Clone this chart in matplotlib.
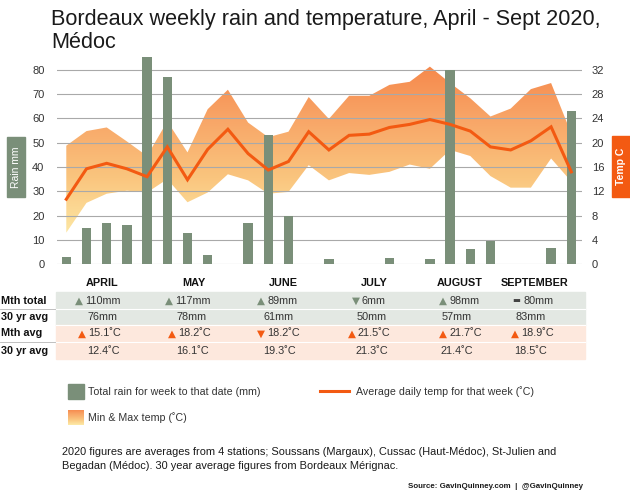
import numpy as np
import matplotlib
matplotlib.use('Agg')
import matplotlib.pyplot as plt
from matplotlib.colors import LinearSegmentedColormap
from matplotlib.patches import Rectangle
from matplotlib.lines import Line2D

plt.rcParams['font.family'] = ['Liberation Sans', 'DejaVu Sans']

# weekly data, April - Sept 2020
weeks = np.arange(26)
rain_mm = [3, 15, 17, 16, 85, 77, 13, 4, 0, 17, 53, 20, 0,
           2.2, 0, 0, 2.7, 0, 2.2, 80, 6.4, 9.7, 0, 0, 6.8, 63]
temp_avg = [10.7, 15.7, 16.6, 15.7, 14.4, 19.3, 13.9, 18.9, 22.2, 18.2, 15.5, 16.9, 21.8,
            18.8, 21.2, 21.4, 22.5, 23.0, 23.8, 23.0, 21.9, 19.3, 18.8, 20.3, 22.6, 15.2]
temp_max = [19.5, 21.9, 22.5, 20.2, 17.8, 23.5, 18.4, 25.5, 28.7, 23.3, 20.9, 21.8, 27.5,
            23.9, 27.7, 27.7, 29.5, 30.0, 32.5, 29.8, 27.3, 24.3, 25.6, 28.8, 29.8, 21.5]
temp_min = [5.2, 10.1, 11.6, 12.1, 11.8, 14.0, 10.2, 11.8, 14.8, 13.8, 11.6, 11.9, 16.3,
            13.8, 15.0, 14.7, 15.2, 16.4, 15.7, 18.8, 17.8, 14.5, 12.6, 12.6, 17.4, 13.6]

# monthly table
months = ['APRIL', 'MAY', 'JUNE', 'JULY', 'AUGUST', 'SEPTEMBER']
rain_total = [110, 117, 89, 6, 98, 80]
rain_30yr = [76, 78, 61, 50, 57, 83]
rain_trend = ['up', 'up', 'up', 'down', 'up', 'same']
temp_month = [15.1, 18.2, 18.2, 21.5, 21.7, 18.9]
temp_30yr = [12.4, 16.1, 19.3, 21.3, 21.4, 18.5]
temp_trend = ['up', 'up', 'down', 'up', 'up', 'up']

GREEN = '#7A8F79'
ORANGE = '#F35A12'
TXT = '#333333'
W, H = 630, 501


def fx(px):
    return px / W


def fy(py):
    return 1 - py / H


fig = plt.figure(figsize=(6.3, 5.01), dpi=100)
fig.patch.set_facecolor('white')

# three stacked axes: gradient band (back), bars + grid (middle), line (front)
pos = [fx(57), fy(264.3), fx(582) - fx(57), fy(57) - fy(264.3)]
ax = fig.add_axes(pos)
ax_back = ax.twinx()
ax_front = ax.twinx()
ax_back.set_zorder(0)
ax.set_zorder(1)
ax_front.set_zorder(2)
ax.patch.set_visible(False)
ax_front.patch.set_visible(False)

xlim = (-0.46, 25.53)
rain_top = 85.2
temp_top = rain_top * 0.4

# gradient min/max band
cmap = LinearSegmentedColormap.from_list('band', [(0, '#FDEBA8'), (0.35, '#FAC57E'),
                                                  (0.7, '#F8A466'), (1, '#F6874A')])
grad = np.linspace(0, 1, 256).reshape(-1, 1)
im = ax_back.imshow(grad, aspect='auto', cmap=cmap, origin='lower',
                    extent=[xlim[0], xlim[1], 4, 33], zorder=1)
band = ax_back.fill_between(weeks, temp_min, temp_max, facecolor='none', edgecolor='none')
im.set_clip_path(band.get_paths()[0], transform=ax_back.transData)

# rain bars
ax.bar(weeks, rain_mm, width=0.47, color=GREEN, zorder=3)
ax.set_axisbelow(True)
ax.yaxis.grid(True, color='#A9A9A9', linewidth=0.8)
ax.set_yticks(np.arange(0, 81, 10))

# average temp line
ax_front.plot(weeks, temp_avg, color=ORANGE, linewidth=2.2, solid_joinstyle='miter')

for a, top in ((ax, rain_top), (ax_back, temp_top), (ax_front, temp_top)):
    a.set_xlim(*xlim)
    a.set_ylim(0, top)
    for s in a.spines.values():
        s.set_visible(False)
    a.set_xticks([])

ax.tick_params(axis='y', length=0, pad=9, labelsize=8, labelcolor=TXT)
ax_back.set_yticks([])
ax_front.set_yticks(np.arange(0, 33, 4))
ax_front.tick_params(axis='y', length=0, pad=7, labelsize=8, labelcolor=TXT)

# axis name boxes
fig.patches.append(Rectangle((fx(6.7), fy(197)), fx(18.3), fy(137) - fy(197), color=GREEN,
                             transform=fig.transFigure, figure=fig))
fig.text(fx(16), fy(167), 'Rain mm', rotation=90, color='white', fontsize=7.5,
         ha='center', va='center')
fig.patches.append(Rectangle((fx(611.7), fy(197)), fx(18.3), fy(136) - fy(197), color=ORANGE,
                             transform=fig.transFigure, figure=fig))
fig.text(fx(621), fy(166.5), 'Temp C', rotation=90, color='white', fontsize=7.5,
         fontweight='bold', ha='center', va='center')

# title
fig.text(fx(51), fy(25), 'Bordeaux weekly rain and temperature, April - Sept 2020,',
         fontsize=15.6, color='#1a1a1a', va='baseline')
fig.text(fx(51), fy(48), 'Médoc', fontsize=15.6, color='#1a1a1a', va='baseline')

# monthly table
fig.patches.append(Rectangle((fx(56), fy(325)), fx(585) - fx(56), fy(292) - fy(325),
                             color='#E3E8E3', transform=fig.transFigure, figure=fig))
fig.patches.append(Rectangle((fx(56), fy(359)), fx(585) - fx(56), fy(325) - fy(359),
                             color='#FDE8DD', transform=fig.transFigure, figure=fig))
for yy in (309, 342):
    fig.lines.append(Line2D([0, fx(56)], [fy(yy), fy(yy)], color='#B5B5B5', linewidth=0.6,
                            transform=fig.transFigure, figure=fig))
    fig.lines.append(Line2D([fx(56), fx(585)], [fy(yy), fy(yy)], color='white', linewidth=0.8,
                            transform=fig.transFigure, figure=fig))
fig.lines.append(Line2D([fx(56), fx(585)], [fy(325), fy(325)], color='white', linewidth=0.8,
                        transform=fig.transFigure, figure=fig))

for label, yy in (('Mth total', 300.7), ('30 yr avg', 316.5), ('Mth avg', 333.5), ('30 yr avg', 350.5)):
    fig.text(0.002, fy(yy), label, fontsize=7.8, fontweight='bold', color='#111111', va='center')

head_x = [102.5, 193.5, 283, 374, 460, 535]
col_x = [103, 192, 279, 372, 457, 531]
rain_txt_x = [85, 175, 267, 362, 449, 523]
temp_txt_x = [88, 178, 267, 358, 449, 521]
glyph = {'up': '▲', 'down': '▼', 'same': '▬'}

for i, m in enumerate(months):
    fig.text(fx(head_x[i]), fy(282.7), m, fontsize=7.8, fontweight='bold', color='#111111',
             ha='center', va='center')
    gcol = GREEN if rain_trend[i] != 'same' else '#444444'
    gsize = 7.5 if rain_trend[i] != 'same' else 6
    fig.text(fx(rain_txt_x[i] - 2.5), fy(300.5), glyph[rain_trend[i]], fontsize=gsize, color=gcol,
             family='DejaVu Sans', ha='right', va='center')
    fig.text(fx(rain_txt_x[i]), fy(300.7), f'{rain_total[i]}mm', fontsize=7.8, color=TXT,
             va='center')
    fig.text(fx(col_x[i]), fy(316.5), f'{rain_30yr[i]}mm', fontsize=7.8, color=TXT,
             ha='center', va='center')
    fig.text(fx(temp_txt_x[i] - 2.5), fy(333.3), glyph[temp_trend[i]], fontsize=7.5, color=ORANGE,
             family='DejaVu Sans', ha='right', va='center')
    fig.text(fx(temp_txt_x[i]), fy(333.5), f'{temp_month[i]:.1f}\u02daC', fontsize=7.8, color=TXT,
             va='center')
    fig.text(fx(col_x[i]), fy(350.5), f'{temp_30yr[i]:.1f}\u02daC', fontsize=7.8, color=TXT,
             ha='center', va='center')

# legend
fig.patches.append(Rectangle((fx(68), fy(399)), fx(16), fy(384) - fy(399), color=GREEN,
                             transform=fig.transFigure, figure=fig))
fig.text(fx(88.5), fy(391.7), 'Total rain for week to that date (mm)', fontsize=7.7,
         color=TXT, va='center')
fig.lines.append(Line2D([fx(320), fx(349)], [fy(391), fy(391)], color=ORANGE, linewidth=2.2,
                        transform=fig.transFigure, figure=fig))
fig.text(fx(356.5), fy(391.7), 'Average daily temp for that week (\u02daC)', fontsize=7.7,
         color=TXT, va='center')
lax = fig.add_axes([fx(68), fy(425), fx(16), fy(410) - fy(425)])
lax.imshow(grad, aspect='auto', cmap=cmap, origin='lower', extent=[0, 1, 0, 1])
lax.axis('off')
fig.text(fx(88.5), fy(418), 'Min & Max temp (\u02daC)', fontsize=7.7, color=TXT, va='center')

# notes
fig.text(fx(62), fy(451.7), '2020 figures are averages from 4 stations; Soussans (Margaux), '
         'Cussac (Haut-Médoc), St-Julien and', fontsize=7.9, color='#1a1a1a', va='center')
fig.text(fx(62), fy(465.7), 'Begadan (Médoc). 30 year average figures from Bordeaux Mérignac.',
         fontsize=7.9, color='#1a1a1a', va='center')
fig.text(fx(583), fy(487), 'Source: GavinQuinney.com  |  @GavinQuinney', fontsize=5.7,
         fontweight='bold', color='#1a1a1a', ha='right', va='center')

fig.savefig('out.png', dpi=100)
